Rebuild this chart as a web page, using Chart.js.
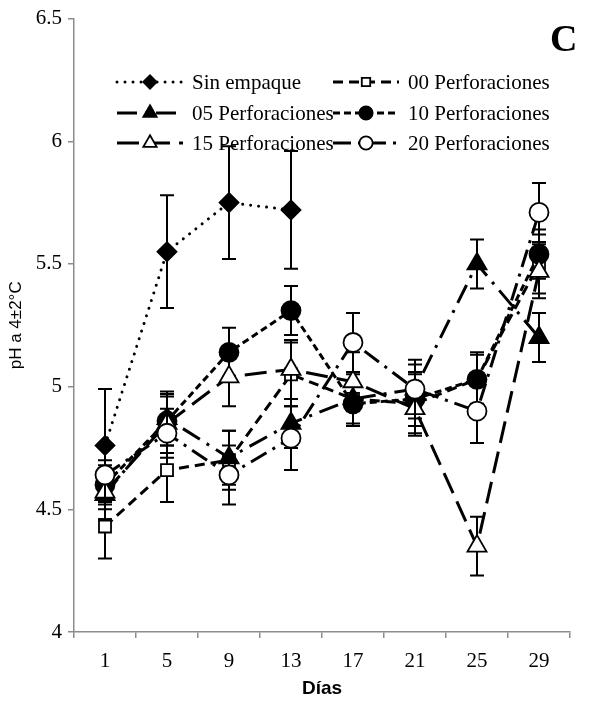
<!DOCTYPE html>
<html>
<head>
<meta charset="utf-8">
<script src="https://cdn.jsdelivr.net/npm/chart.js@4.4.1/dist/chart.umd.min.js"></script>
<style>
  body { margin: 0; background: #fff; }
  #wrap { width: 600px; height: 708px; position: relative; }
</style>
</head>
<body>
<div id="wrap"><canvas id="phChart"></canvas></div>
<script>
// Sampling days and pH axis ticks
const dias = ['1', '5', '9', '13', '17', '21', '25', '29'];
const yTicks = [4, 4.5, 5, 5.5, 6, 6.5];

// Mean pH per treatment and its error (+/-)
const sinEmpaque = [4.76, 5.55, 5.75, 5.72, null, null, null, null];
const sinEmpaqueErr = [0.23, 0.23, 0.23, 0.24, null, null, null, null];
const perf00 = [4.43, 4.66, 4.70, 5.05, 4.95, 4.93, 5.03, 5.50];
const perf00Err = [0.13, 0.13, 0.12, 0.13, 0.11, 0.12, 0.11, 0.12];
const perf05 = [4.56, 4.87, 4.71, 4.85, 4.95, 4.99, 5.50, 5.20];
const perf05Err = [0.10, 0.11, 0.11, 0.10, 0.10, 0.10, 0.10, 0.10];
const perf10 = [4.60, 4.86, 5.14, 5.31, 4.93, 4.95, 5.03, 5.54];
const perf10Err = [0.10, 0.10, 0.10, 0.10, 0.09, 0.11, 0.10, 0.10];
const perf15 = [4.57, 4.85, 5.04, 5.07, 5.02, 4.91, 4.35, 5.47];
const perf15Err = [0.11, 0.12, 0.12, 0.12, 0.12, 0.11, 0.12, 0.11];
const perf20 = [4.64, 4.81, 4.64, 4.79, 5.18, 4.99, 4.90, 5.71];
const perf20Err = [0.12, 0.10, 0.12, 0.13, 0.12, 0.12, 0.13, 0.12];

const serif = 'Liberation Serif, Times New Roman, serif';
const sans = 'Liberation Sans, Arial, sans-serif';
const axisGray = '#8c8c8c';

// legend grid (two columns, three rows, drawn inside the plot)
const legendCols = [117, 333];
const legendRows = [82, 113, 143];
const legendSample = 66;

function series(label, data, errors, dash, style, radius, fill, cap) {
    return {
        label: label,
        data: data,
        errors: errors,
        borderColor: '#000',
        borderWidth: 3,
        borderDash: dash,
        borderCapStyle: cap || 'butt',
        pointStyle: style,
        pointRadius: radius,
        pointBackgroundColor: fill,
        pointBorderColor: '#000',
        pointBorderWidth: 1.8,
        fill: false,
        tension: 0,
        spanGaps: false
    };
}

const datasets = [
    series('Sin empaque', sinEmpaque, sinEmpaqueErr, [0.01, 8], 'rectRot', 9.5, '#000', 'round'),
    series('00 Perforaciones', perf00, perf00Err, [10, 6], 'rect', 8.5, '#fff'),
    series('05 Perforaciones', perf05, perf05Err, [20, 8, 3, 8], 'triangle', 11, '#000'),
    series('10 Perforaciones', perf10, perf10Err, [7, 4], 'circle', 9.5, '#000'),
    series('15 Perforaciones', perf15, perf15Err, [22, 9], 'triangle', 11, '#fff'),
    series('20 Perforaciones', perf20, perf20Err, [18, 7, 3, 7], 'circle', 9.5, '#fff')
];
// later series sit on top
datasets.forEach((d, i) => { d.order = datasets.length - i; });

// vertical error bars with caps, drawn just before each series
const errorBars = {
    id: 'errorBars',
    beforeDatasetDraw(chart, args) {
        const ds = chart.data.datasets[args.index];
        if (!ds.errors) return;
        const yScale = chart.scales.y;
        const ctx = chart.ctx;
        ctx.save();
        ctx.strokeStyle = '#000';
        ctx.lineWidth = 2;
        ctx.setLineDash([]);
        args.meta.data.forEach((pt, i) => {
            const v = ds.data[i], e = ds.errors[i];
            if (v == null || e == null) return;
            const x = pt.x;
            const top = yScale.getPixelForValue(v + e);
            const bot = yScale.getPixelForValue(v - e);
            ctx.beginPath();
            ctx.moveTo(x, top); ctx.lineTo(x, bot);
            ctx.moveTo(x - 7, top); ctx.lineTo(x + 7, top);
            ctx.moveTo(x - 7, bot); ctx.lineTo(x + 7, bot);
            ctx.stroke();
        });
        ctx.restore();
    }
};

// legend in two columns plus the panel letter
const panelLegend = {
    id: 'panelLegend',
    afterDraw(chart) {
        const ctx = chart.ctx;
        ctx.save();
        chart.data.datasets.forEach((ds, i) => {
            const x0 = legendCols[i % 2];
            const y0 = legendRows[Math.floor(i / 2)];
            ctx.strokeStyle = '#000';
            ctx.lineWidth = ds.borderWidth;
            ctx.lineCap = ds.borderCapStyle;
            ctx.setLineDash(ds.borderDash);
            ctx.beginPath();
            ctx.moveTo(x0, y0);
            ctx.lineTo(x0 + legendSample, y0);
            ctx.stroke();
            ctx.setLineDash([]);
            ctx.lineCap = 'butt';
            ctx.lineWidth = ds.pointBorderWidth;
            ctx.fillStyle = ds.pointBackgroundColor;
            Chart.helpers.drawPoint(ctx, {
                pointStyle: ds.pointStyle,
                radius: ds.pointRadius * 0.7,
                rotation: 0,
                borderWidth: ds.pointBorderWidth
            }, x0 + legendSample / 2, y0);
            ctx.fillStyle = '#000';
            ctx.font = '21px ' + serif;
            ctx.textAlign = 'left';
            ctx.textBaseline = 'middle';
            ctx.fillText(ds.label, x0 + legendSample + 9, y0 + 1);
        });
        ctx.font = 'bold 38px ' + serif;
        ctx.fillStyle = '#000';
        ctx.textAlign = 'left';
        ctx.textBaseline = 'alphabetic';
        ctx.fillText('C', 550, 51);
        ctx.restore();
    }
};

new Chart(document.getElementById('phChart'), {
    type: 'line',
    data: { labels: dias, datasets: datasets },
    options: {
        responsive: true,
        maintainAspectRatio: false,
        animation: false,
        events: [],
        layout: { padding: { left: 0, right: 30, top: 12, bottom: 0 } },
        plugins: {
            legend: { display: false },
            tooltip: { enabled: false }
        },
        scales: {
            x: {
                offset: true,
                grid: { drawOnChartArea: false, offset: true, color: axisGray, lineWidth: 1.5, tickLength: 6 },
                border: { color: axisGray, width: 1.5 },
                ticks: { color: '#000', font: { family: serif, size: 21 }, padding: 11, maxRotation: 0 },
                title: {
                    display: true, text: 'Días', color: '#000',
                    font: { family: sans, size: 19, weight: 'bold' },
                    padding: { top: 2, bottom: 8 }
                },
                afterFit(scale) { scale.height = 76; }
            },
            y: {
                min: 4,
                max: 6.5,
                afterBuildTicks(scale) { scale.ticks = yTicks.map(v => ({ value: v })); },
                grid: { drawOnChartArea: false, color: axisGray, lineWidth: 1.5, tickLength: 6 },
                border: { color: axisGray, width: 1.5 },
                ticks: { color: '#000', font: { family: serif, size: 21 }, padding: 6, callback: v => String(v) },
                title: {
                    display: true, text: 'pH a 4±2°C', color: '#000',
                    font: { family: sans, size: 17 },
                    padding: { top: 6, bottom: 0 }
                },
                afterFit(scale) { scale.width = 74; }
            }
        }
    },
    plugins: [errorBars, panelLegend]
});
</script>
</body>
</html>
